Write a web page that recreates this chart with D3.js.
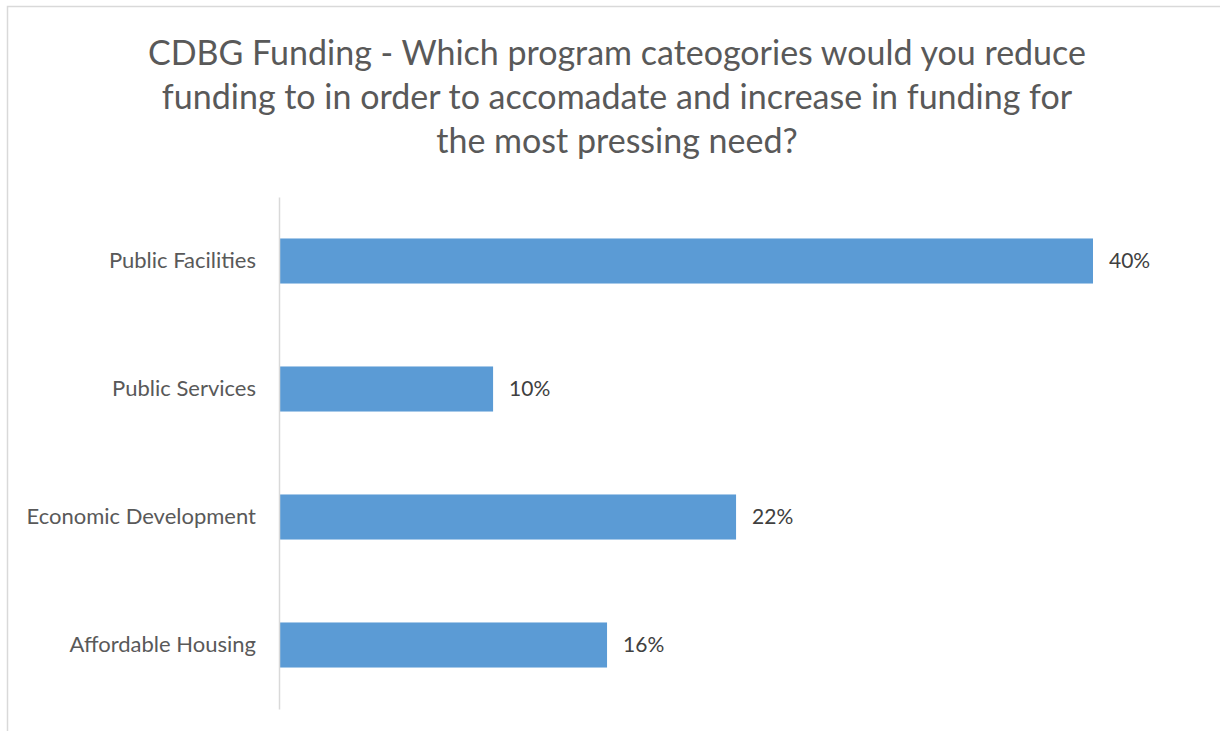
<!DOCTYPE html>
<html>
<head>
<meta charset="utf-8">
<script src="https://cdn.jsdelivr.net/npm/d3@7"></script>
<style>
  html, body { margin: 0; padding: 0; background: #fff; }
  svg { display: block; }
  text { font-family: Lato, "Open Sans", "Liberation Sans", sans-serif; }
</style>
</head>
<body>
<svg id="chart" width="1220" height="731"></svg>
<script>
const titleLines = [
  "CDBG Funding - Which program cateogories would you reduce",
  "funding to in order to accomadate and increase in funding for",
  "the most pressing need?"
];
const categories = ["Public Facilities", "Public Services", "Economic Development", "Affordable Housing"];
const values = [0.400, 0.1052, 0.2246, 0.1612];
const valueLabels = ["40%", "10%", "22%", "16%"];

const svg = d3.select("#chart");
const W = 1220, H = 731;

// chart border
svg.append("rect")
  .attr("x", 7.5).attr("y", 6.5)
  .attr("width", W + 10).attr("height", H + 10)
  .attr("fill", "#fff").attr("stroke", "#d9d9d9").attr("stroke-width", 1.5);

// title
const title = svg.append("text")
  .attr("text-anchor", "middle")
  .attr("fill", "#595959")
  .style("font-size", "34px");
title.selectAll("tspan").data(titleLines).join("tspan")
  .attr("x", 617)
  .attr("y", (d, i) => 65 + i * 44)
  .text(d => d);

const x = d3.scaleLinear().domain([0, 0.40]).range([279, 1093]);
const y = d3.scaleBand().domain(categories).range([197, 709]).paddingInner(0.648).paddingOuter(0.324);

// bars
svg.append("g").selectAll("rect")
  .data(categories)
  .join("rect")
  .attr("x", x(0))
  .attr("y", d => y(d))
  .attr("width", (d, i) => x(values[i]) - x(0))
  .attr("height", y.bandwidth())
  .attr("fill", "#5b9bd5");

// category axis
const axis = svg.append("g")
  .attr("transform", `translate(${x(0)},0)`)
  .call(d3.axisLeft(y).tickSize(0).tickPadding(23));
axis.select(".domain").attr("stroke", "#d9d9d9").attr("stroke-width", 1.5);
axis.selectAll("text")
  .attr("fill", "#595959")
  .style("font-size", "22px")
  .style("font-family", "Lato, 'Open Sans', sans-serif");

// data labels
svg.append("g").selectAll("text")
  .data(categories)
  .join("text")
  .attr("x", (d, i) => x(values[i]) + 16)
  .attr("y", d => y(d) + y.bandwidth() / 2)
  .attr("dy", "0.35em")
  .attr("fill", "#404040")
  .style("font-size", "21px")
  .text((d, i) => valueLabels[i]);
</script>
</body>
</html>
